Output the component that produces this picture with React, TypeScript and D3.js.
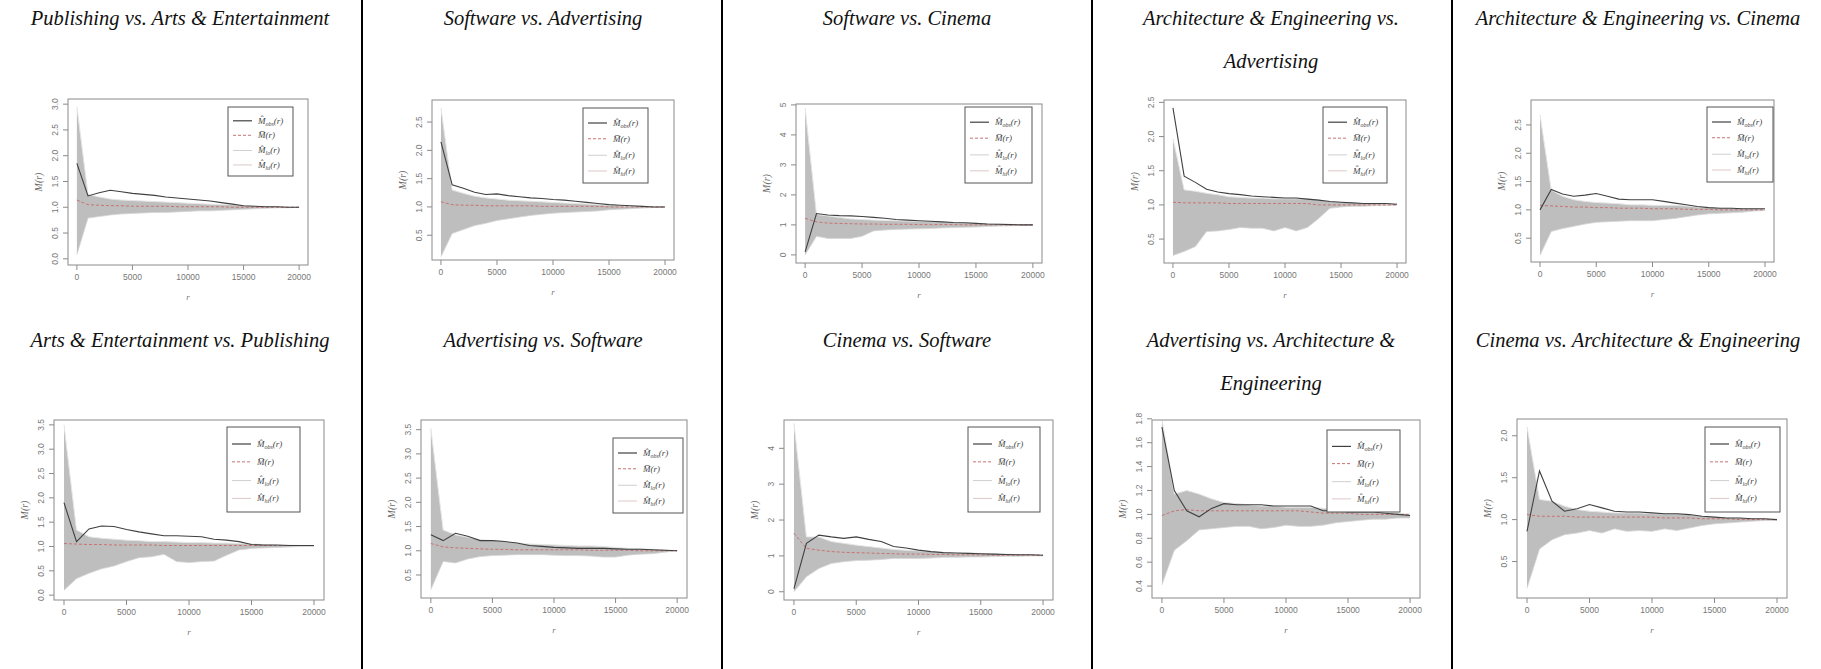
import React from 'react';
import * as d3 from 'd3';

// ---------- data ----------
const R_VALUES = [0, 1000, 2000, 3000, 4000, 5000, 6000, 7000, 8000, 9000, 10000, 11000, 12000, 13000, 14000, 15000, 16000, 17000, 18000, 19000, 20000];
const X_TICKS = [0, 5000, 10000, 15000, 20000];

const TITLES = [
  ['Publishing vs. Arts & Entertainment'],
  ['Software vs. Advertising'],
  ['Software vs. Cinema'],
  ['Architecture & Engineering vs.', 'Advertising'],
  ['Architecture & Engineering vs. Cinema'],
  ['Arts & Entertainment vs. Publishing'],
  ['Advertising vs. Software'],
  ['Cinema vs. Software'],
  ['Advertising vs. Architecture &', 'Engineering'],
  ['Cinema vs. Architecture & Engineering'],
];

// Panel 1: Publishing vs. Arts & Entertainment
const OBS_1 = [1.85, 1.22, 1.28, 1.33, 1.3, 1.27, 1.25, 1.23, 1.2, 1.18, 1.16, 1.14, 1.12, 1.09, 1.06, 1.03, 1.02, 1.01, 1.01, 1.0, 1.0];
const HI_1 = [2.95, 1.25, 1.2, 1.16, 1.14, 1.13, 1.12, 1.11, 1.1, 1.09, 1.08, 1.07, 1.06, 1.05, 1.05, 1.03, 1.02, 1.01, 1.01, 1.0, 1.0];
const LO_1 = [0.08, 0.79, 0.82, 0.85, 0.87, 0.88, 0.89, 0.9, 0.9, 0.91, 0.92, 0.93, 0.93, 0.94, 0.95, 0.96, 0.97, 0.98, 0.99, 0.99, 1.0];
const MEAN_1 = [1.14, 1.05, 1.04, 1.03, 1.03, 1.02, 1.02, 1.02, 1.02, 1.01, 1.01, 1.01, 1.01, 1.01, 1.0, 1.0, 1.0, 1.0, 1.0, 1.0, 1.0];
const YTICKS_1 = [0, 0.5, 1, 1.5, 2, 2.5, 3];

// Panel 2: Software vs. Advertising
const OBS_2 = [2.15, 1.39, 1.33, 1.26, 1.22, 1.23, 1.2, 1.18, 1.16, 1.15, 1.13, 1.12, 1.1, 1.08, 1.06, 1.04, 1.03, 1.02, 1.01, 1.0, 1.0];
const HI_2 = [2.75, 1.3, 1.24, 1.19, 1.16, 1.14, 1.12, 1.11, 1.1, 1.09, 1.08, 1.07, 1.06, 1.05, 1.04, 1.03, 1.02, 1.01, 1.01, 1.0, 1.0];
const LO_2 = [0.12, 0.53, 0.6, 0.67, 0.71, 0.76, 0.79, 0.82, 0.85, 0.87, 0.89, 0.9, 0.91, 0.92, 0.93, 0.95, 0.96, 0.97, 0.98, 0.99, 1.0];
const MEAN_2 = [1.09, 1.04, 1.03, 1.03, 1.02, 1.02, 1.02, 1.02, 1.02, 1.01, 1.01, 1.01, 1.01, 1.01, 1.01, 1.0, 1.0, 1.0, 1.0, 1.0, 1.0];
const YTICKS_2 = [0.5, 1, 1.5, 2, 2.5];

// Panel 3: Software vs. Cinema
const OBS_3 = [0.1, 1.38, 1.33, 1.31, 1.3, 1.28, 1.25, 1.22, 1.18, 1.16, 1.14, 1.12, 1.1, 1.08, 1.07, 1.05, 1.03, 1.02, 1.01, 1.0, 1.0];
const HI_3 = [4.9, 1.35, 1.3, 1.25, 1.2, 1.18, 1.16, 1.15, 1.14, 1.13, 1.12, 1.11, 1.1, 1.08, 1.07, 1.05, 1.04, 1.03, 1.02, 1.01, 1.0];
const LO_3 = [0.0, 0.62, 0.55, 0.55, 0.55, 0.62, 0.8, 0.83, 0.85, 0.86, 0.87, 0.88, 0.9, 0.91, 0.92, 0.93, 0.95, 0.96, 0.97, 0.98, 1.0];
const MEAN_3 = [1.22, 1.1, 1.06, 1.05, 1.04, 1.03, 1.03, 1.02, 1.02, 1.02, 1.01, 1.01, 1.01, 1.01, 1.0, 1.0, 1.0, 1.0, 1.0, 1.0, 1.0];
const YTICKS_3 = [0, 1, 2, 3, 4, 5];

// Panel 4: Architecture & Engineering vs. Advertising
const OBS_4 = [2.42, 1.42, 1.33, 1.23, 1.19, 1.165, 1.15, 1.13, 1.12, 1.11, 1.1, 1.1, 1.085, 1.07, 1.05, 1.04, 1.03, 1.02, 1.02, 1.02, 1.01];
const HI_4 = [1.97, 1.22, 1.2, 1.17, 1.15, 1.12, 1.11, 1.1, 1.1, 1.09, 1.09, 1.09, 1.09, 1.07, 1.05, 1.04, 1.03, 1.02, 1.02, 1.01, 1.01];
const LO_4 = [0.26, 0.32, 0.39, 0.61, 0.62, 0.64, 0.67, 0.66, 0.66, 0.62, 0.67, 0.62, 0.67, 0.8, 0.95, 0.97, 0.98, 0.98, 0.99, 0.99, 1.0];
const MEAN_4 = [1.04, 1.03, 1.03, 1.03, 1.03, 1.02, 1.02, 1.02, 1.02, 1.02, 1.02, 1.02, 1.02, 1.0, 1.0, 1.0, 1.0, 1.0, 1.0, 1.0, 1.0];
const YTICKS_4 = [0.5, 1, 1.5, 2, 2.5];

// Panel 5: Architecture & Engineering vs. Cinema
const OBS_5 = [1.0, 1.36, 1.28, 1.24, 1.26, 1.29, 1.24, 1.19, 1.18, 1.18, 1.18, 1.15, 1.12, 1.09, 1.06, 1.04, 1.03, 1.03, 1.02, 1.02, 1.02];
const HI_5 = [2.68, 1.35, 1.24, 1.18, 1.15, 1.13, 1.12, 1.11, 1.09, 1.09, 1.08, 1.08, 1.08, 1.07, 1.05, 1.04, 1.03, 1.03, 1.02, 1.02, 1.01];
const LO_5 = [0.2, 0.62, 0.67, 0.71, 0.75, 0.78, 0.79, 0.8, 0.81, 0.81, 0.81, 0.83, 0.85, 0.88, 0.91, 0.93, 0.94, 0.95, 0.96, 0.98, 0.99];
const MEAN_5 = [1.08, 1.07, 1.06, 1.05, 1.05, 1.04, 1.04, 1.03, 1.03, 1.03, 1.02, 1.02, 1.02, 1.01, 1.01, 1.01, 1.0, 1.0, 1.0, 1.0, 1.0];
const YTICKS_5 = [0.5, 1, 1.5, 2, 2.5];

// Panel 6: Arts & Entertainment vs. Publishing
const OBS_6 = [1.9, 1.1, 1.36, 1.42, 1.41, 1.35, 1.3, 1.26, 1.22, 1.22, 1.21, 1.2, 1.15, 1.13, 1.1, 1.04, 1.03, 1.03, 1.02, 1.02, 1.02];
const HI_6 = [3.5, 1.34, 1.2, 1.17, 1.15, 1.13, 1.12, 1.1, 1.1, 1.09, 1.08, 1.08, 1.07, 1.07, 1.06, 1.05, 1.04, 1.03, 1.03, 1.02, 1.02];
const LO_6 = [0.1, 0.34, 0.45, 0.54, 0.6, 0.69, 0.77, 0.79, 0.84, 0.69, 0.67, 0.69, 0.7, 0.82, 0.93, 0.96, 0.97, 0.98, 0.99, 1.0, 1.0];
const MEAN_6 = [1.06, 1.05, 1.04, 1.04, 1.03, 1.03, 1.03, 1.03, 1.02, 1.02, 1.02, 1.02, 1.02, 1.02, 1.02, 1.02, 1.02, 1.02, 1.02, 1.02, 1.02];
const YTICKS_6 = [0, 0.5, 1, 1.5, 2, 2.5, 3, 3.5];

// Panel 7: Advertising vs. Software
const OBS_7 = [1.33, 1.21, 1.36, 1.3, 1.21, 1.21, 1.19, 1.16, 1.11, 1.09, 1.07, 1.06, 1.05, 1.05, 1.05, 1.04, 1.03, 1.03, 1.02, 1.01, 1.0];
const HI_7 = [3.53, 1.43, 1.33, 1.28, 1.23, 1.21, 1.19, 1.16, 1.14, 1.13, 1.12, 1.11, 1.1, 1.1, 1.09, 1.07, 1.05, 1.04, 1.03, 1.02, 1.0];
const LO_7 = [0.2, 0.78, 0.75, 0.83, 0.88, 0.9, 0.91, 0.92, 0.92, 0.92, 0.91, 0.9, 0.9, 0.89, 0.87, 0.87, 0.91, 0.93, 0.94, 0.97, 1.0];
const MEAN_7 = [1.15, 1.08, 1.06, 1.05, 1.04, 1.03, 1.03, 1.02, 1.02, 1.02, 1.02, 1.02, 1.02, 1.01, 1.01, 1.01, 1.01, 1.0, 1.0, 1.0, 1.0];
const YTICKS_7 = [0.5, 1, 1.5, 2, 2.5, 3, 3.5];

// Panel 8: Cinema vs. Software
const OBS_8 = [0.09, 1.35, 1.58, 1.53, 1.49, 1.53, 1.46, 1.4, 1.26, 1.22, 1.16, 1.12, 1.09, 1.08, 1.07, 1.06, 1.05, 1.04, 1.03, 1.03, 1.02];
const HI_8 = [4.7, 1.53, 1.53, 1.4, 1.35, 1.3, 1.26, 1.22, 1.18, 1.16, 1.14, 1.12, 1.09, 1.08, 1.08, 1.07, 1.06, 1.05, 1.04, 1.03, 1.02];
const LO_8 = [0.0, 0.42, 0.65, 0.79, 0.84, 0.87, 0.88, 0.9, 0.93, 0.93, 0.93, 0.94, 0.96, 0.96, 0.97, 0.97, 0.98, 0.99, 0.99, 1.0, 1.0];
const MEAN_8 = [1.63, 1.21, 1.16, 1.12, 1.1, 1.09, 1.08, 1.07, 1.06, 1.05, 1.05, 1.04, 1.04, 1.03, 1.03, 1.03, 1.02, 1.02, 1.02, 1.02, 1.02];
const YTICKS_8 = [0, 1, 2, 3, 4];

// Panel 9: Advertising vs. Architecture & Engineering
const OBS_9 = [1.73, 1.2, 1.03, 0.98, 1.05, 1.09, 1.08, 1.08, 1.08, 1.07, 1.07, 1.07, 1.07, 1.03, 1.03, 1.02, 1.02, 1.02, 1.01, 1.0, 0.99];
const HI_9 = [1.8, 1.17, 1.2, 1.17, 1.13, 1.1, 1.09, 1.08, 1.07, 1.07, 1.06, 1.06, 1.06, 1.05, 1.04, 1.04, 1.03, 1.02, 1.01, 1.01, 1.0];
const LO_9 = [0.41, 0.7, 0.78, 0.87, 0.88, 0.89, 0.9, 0.9, 0.88, 0.89, 0.91, 0.9, 0.9, 0.91, 0.93, 0.94, 0.95, 0.96, 0.96, 0.97, 0.97];
const MEAN_9 = [0.99, 1.03, 1.04, 1.03, 1.03, 1.03, 1.03, 1.03, 1.03, 1.03, 1.03, 1.03, 1.02, 1.01, 1.01, 1.01, 1.0, 1.0, 1.0, 1.0, 1.0];
const YTICKS_9 = [0.4, 0.6, 0.8, 1.0, 1.2, 1.4, 1.6, 1.8];

// Panel 10: Cinema vs. Architecture & Engineering
const OBS_10 = [0.86, 1.58, 1.22, 1.1, 1.13, 1.18, 1.14, 1.1, 1.09, 1.09, 1.08, 1.07, 1.07, 1.06, 1.04, 1.03, 1.02, 1.02, 1.01, 1.01, 1.0];
const HI_10 = [2.11, 1.24, 1.22, 1.16, 1.12, 1.1, 1.09, 1.08, 1.08, 1.08, 1.07, 1.07, 1.07, 1.06, 1.04, 1.03, 1.02, 1.02, 1.01, 1.01, 1.0];
const LO_10 = [0.18, 0.65, 0.76, 0.82, 0.84, 0.87, 0.84, 0.89, 0.86, 0.87, 0.86, 0.89, 0.87, 0.9, 0.93, 0.95, 0.96, 0.97, 0.98, 0.99, 0.99];
const MEAN_10 = [1.06, 1.04, 1.04, 1.04, 1.03, 1.03, 1.03, 1.03, 1.03, 1.03, 1.03, 1.02, 1.02, 1.02, 1.01, 1.01, 1.01, 1.0, 1.0, 1.0, 1.0];
const YTICKS_10 = [0.5, 1, 1.5, 2];

const PANEL_DATA = [
  { obs: OBS_1, hi: HI_1, lo: LO_1, mean: MEAN_1, yTicks: YTICKS_1, yDomain: [-0.12, 3.1], fmt: '.1f' },
  { obs: OBS_2, hi: HI_2, lo: LO_2, mean: MEAN_2, yTicks: YTICKS_2, yDomain: [0.062, 2.89], fmt: '.1f' },
  { obs: OBS_3, hi: HI_3, lo: LO_3, mean: MEAN_3, yTicks: YTICKS_3, yDomain: [-0.27, 5.03], fmt: 'd' },
  { obs: OBS_4, hi: HI_4, lo: LO_4, mean: MEAN_4, yTicks: YTICKS_4, yDomain: [0.15, 2.535], fmt: '.1f' },
  { obs: OBS_5, hi: HI_5, lo: LO_5, mean: MEAN_5, yTicks: YTICKS_5, yDomain: [0.08, 2.94], fmt: '.1f' },
  { obs: OBS_6, hi: HI_6, lo: LO_6, mean: MEAN_6, yTicks: YTICKS_6, yDomain: [-0.1, 3.6], fmt: '.1f' },
  { obs: OBS_7, hi: HI_7, lo: LO_7, mean: MEAN_7, yTicks: YTICKS_7, yDomain: [0.025, 3.7], fmt: '.1f' },
  { obs: OBS_8, hi: HI_8, lo: LO_8, mean: MEAN_8, yTicks: YTICKS_8, yDomain: [-0.23, 4.79], fmt: 'd' },
  { obs: OBS_9, hi: HI_9, lo: LO_9, mean: MEAN_9, yTicks: YTICKS_9, yDomain: [0.3, 1.79], fmt: '.1f' },
  { obs: OBS_10, hi: HI_10, lo: LO_10, mean: MEAN_10, yTicks: YTICKS_10, yDomain: [0.065, 2.2], fmt: '.1f' },
];

// ---------- layout ----------
const W = 1821;
const H = 669;
const SEPARATORS = [362, 722, 1092, 1452];
const PANEL_CENTERS = [180, 543, 907, 1271, 1638];
const TITLE_BASE = [25, 347];
const TITLE_LINE = 43;

// box: [x0, y0, x1, y1], legend: [x, y, w, h]
const LAYOUT = [
  { box: [68, 99, 308, 265], legend: [228, 107, 65, 69] },
  { box: [432, 100, 674, 260], legend: [583, 108, 65, 75] },
  { box: [796, 104, 1042, 263], legend: [965, 107, 67, 76] },
  { box: [1164, 100, 1406, 263], legend: [1323, 107, 64, 76] },
  { box: [1531, 100, 1774, 262], legend: [1707, 107, 66, 75] },
  { box: [54, 420, 324, 600], legend: [227, 427, 73, 85] },
  { box: [421, 420, 687, 598], legend: [613, 438, 70, 75] },
  { box: [784, 420, 1053, 600], legend: [968, 427, 72, 85] },
  { box: [1152, 420, 1420, 598], legend: [1327, 430, 73, 82] },
  { box: [1517, 419, 1787, 598], legend: [1705, 427, 75, 85] },
];

const SERIF = "'Liberation Serif', 'DejaVu Serif', serif";
const SANS = "'Liberation Sans', Arial, sans-serif";
const BAND = '#bebebe';
const OBS_C = '#404040';
const MEAN_C = '#c77272';
const AXIS_C = '#8a8a8a';

function LegendLabel({ x, y, sub, bar }: { x: number; y: number; sub?: string; bar?: boolean }) {
  return (
    <text x={x} y={y} fontFamily={SERIF} fontStyle="italic" fontSize={9} fill="#444">
      {bar ? 'M\u0305' : 'M\u0302'}
      {sub ? (
        <>
          <tspan fontSize={6} dy={2}>{sub}</tspan>
          <tspan dy={-2}>(r)</tspan>
        </>
      ) : (
        <tspan>(r)</tspan>
      )}
    </text>
  );
}

function Panel({ idx }: { idx: number }) {
  const d = PANEL_DATA[idx];
  const L = LAYOUT[idx];
  const [x0, y0, x1, y1] = L.box;
  const x = d3.scaleLinear().domain([-800, 20800]).range([x0, x1]);
  const y = d3.scaleLinear().domain(d.yDomain).range([y1, y0]);
  const pts = R_VALUES.map((r, i) => ({ r, obs: d.obs[i], hi: d.hi[i], lo: d.lo[i], mean: d.mean[i] }));
  const area = d3.area<any>().x((p) => x(p.r)).y0((p) => y(p.lo)).y1((p) => y(p.hi));
  const mk = (k: string) => d3.line<any>().x((p) => x(p.r)).y((p) => y(p[k]));
  const f = d3.format(d.fmt);
  const clipId = `clip${idx}`;
  const [lx, ly, lw, lh] = L.legend;
  const rows = [0.2, 0.41, 0.63, 0.84].map((t) => ly + lh * t);
  return (
    <g>
      <defs>
        <clipPath id={clipId}>
          <rect x={x0} y={y0} width={x1 - x0} height={y1 - y0} />
        </clipPath>
      </defs>
      <g clipPath={`url(#${clipId})`}>
        <path d={area(pts) || ''} fill={BAND} stroke="none" />
        <path d={mk('hi')(pts) || ''} fill="none" stroke="#e6e6e6" strokeWidth={1} />
        <path d={mk('lo')(pts) || ''} fill="none" stroke="#d6d6d6" strokeWidth={0.8} />
        <path d={mk('mean')(pts) || ''} fill="none" stroke={MEAN_C} strokeWidth={1} strokeDasharray="3,2" />
        <path d={mk('obs')(pts) || ''} fill="none" stroke={OBS_C} strokeWidth={1.1} />
      </g>
      <rect x={x0} y={y0} width={x1 - x0} height={y1 - y0} fill="none" stroke={AXIS_C} strokeWidth={1} />
      {X_TICKS.map((t) => (
        <g key={'x' + t}>
          <line x1={x(t)} x2={x(t)} y1={y1} y2={y1 + 5} stroke={AXIS_C} />
          <text x={x(t)} y={y1 + 15} textAnchor="middle" fontFamily={SANS} fontSize={8.5} fill="#777">
            {t}
          </text>
        </g>
      ))}
      {d.yTicks.map((t) => (
        <g key={'y' + t}>
          <line x1={x0} x2={x0 - 5} y1={y(t)} y2={y(t)} stroke={AXIS_C} />
          <text
            transform={`translate(${x0 - 10},${y(t)}) rotate(-90)`}
            textAnchor="middle"
            fontFamily={SANS}
            fontSize={8.5}
            fill="#777"
          >
            {f(t)}
          </text>
        </g>
      ))}
      <text
        transform={`translate(${x0 - 26},${(y0 + y1) / 2}) rotate(-90)`}
        textAnchor="middle"
        fontFamily={SERIF}
        fontStyle="italic"
        fontSize={10}
        fill="#666"
      >
        M(r)
      </text>
      <text x={(x0 + x1) / 2} y={y1 + 35} textAnchor="middle" fontFamily={SERIF} fontStyle="italic" fontSize={9} fill="#777">
        r
      </text>
      <rect x={lx} y={ly} width={lw} height={lh} fill="#fff" stroke="#555" strokeWidth={1} />
      <line x1={lx + 5} x2={lx + 24} y1={rows[0]} y2={rows[0]} stroke={OBS_C} strokeWidth={1.2} />
      <line x1={lx + 5} x2={lx + 24} y1={rows[1]} y2={rows[1]} stroke={MEAN_C} strokeWidth={1} strokeDasharray="3,2" />
      <line x1={lx + 5} x2={lx + 24} y1={rows[2]} y2={rows[2]} stroke="#cfcfcf" strokeWidth={1} />
      <line x1={lx + 5} x2={lx + 24} y1={rows[3]} y2={rows[3]} stroke="#dcc8c8" strokeWidth={1} />
      <LegendLabel x={lx + 30} y={rows[0] + 3} sub="obs" />
      <LegendLabel x={lx + 30} y={rows[1] + 3} bar />
      <LegendLabel x={lx + 30} y={rows[2] + 3} sub="lo" />
      <LegendLabel x={lx + 30} y={rows[3] + 3} sub="hi" />
      {TITLES[idx].map((line, k) => (
        <text
          key={k}
          x={PANEL_CENTERS[idx % 5]}
          y={TITLE_BASE[Math.floor(idx / 5)] + k * TITLE_LINE}
          textAnchor="middle"
          fontFamily={SERIF}
          fontStyle="italic"
          fontSize={20.5}
          fill="#111"
        >
          {line}
        </text>
      ))}
    </g>
  );
}

export default function App() {
  return (
    <svg width={W} height={H} style={{ position: 'absolute', left: 0, top: 0, background: '#fff' }}>
      <rect x={0} y={0} width={W} height={H} fill="#fff" />
      {PANEL_DATA.map((_, i) => (
        <Panel key={i} idx={i} />
      ))}
      {SEPARATORS.map((sx) => (
        <line key={sx} x1={sx} x2={sx} y1={0} y2={H} stroke="#000" strokeWidth={2} />
      ))}
    </svg>
  );
}
